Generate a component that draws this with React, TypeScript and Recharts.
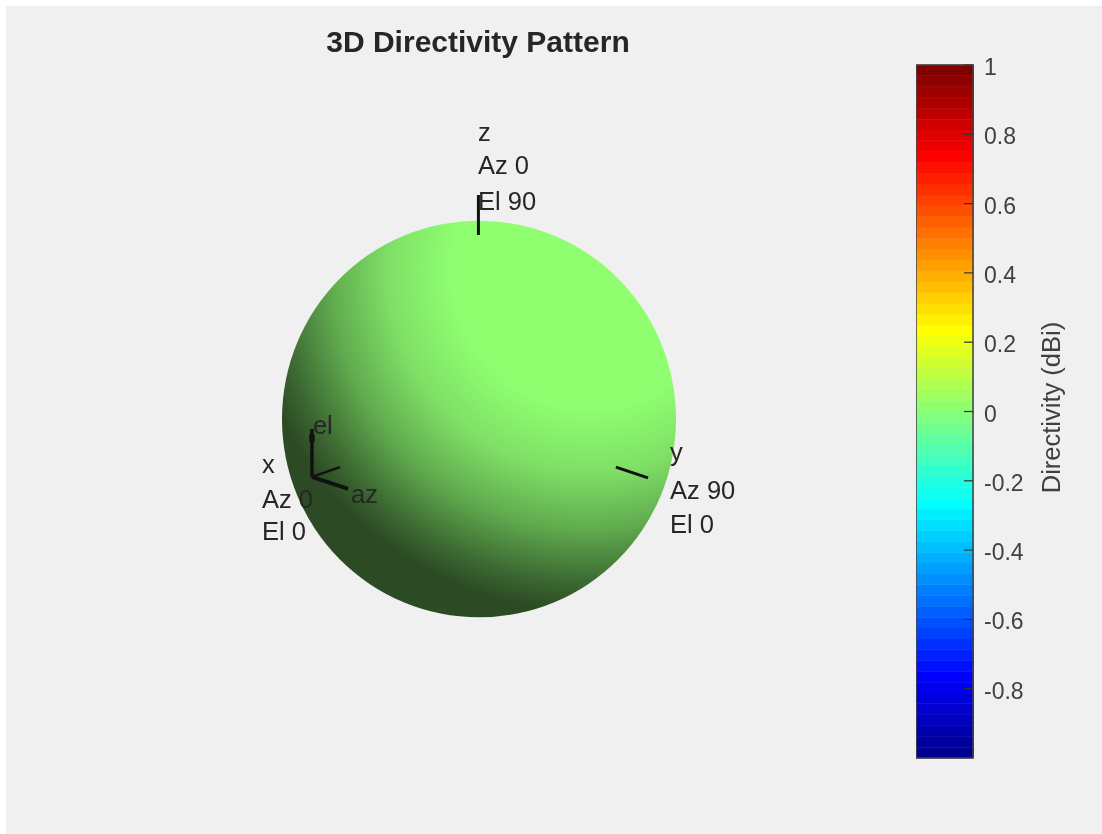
import {
  ComposedChart, Bar, Cell, Scatter, XAxis, YAxis,
} from "recharts";

// sphere units: 1 = sphere radius, origin = sphere centre
const sphereCentre = [{ x: 0, y: 0 }];
const zTick = [{ x: -0.003, y: 0.934 }, { x: -0.003, y: 1.137 }];
const yTick = [{ x: 0.695, y: -0.244 }, { x: 0.858, y: -0.299 }];
const elArrow = [{ x: -0.848, y: -0.294 }, { x: -0.848, y: -0.051 }];
const elHead = [{ x: -0.848, y: -0.115 }, { x: -0.848, y: -0.078 }];
const azArrow = [{ x: -0.848, y: -0.294 }, { x: -0.665, y: -0.355 }];
const xArrow = [{ x: -0.848, y: -0.294 }, { x: -0.706, y: -0.244 }];

const sphereLabels = [
  { x: -0.005, y: 1.421, text: "z" },
  { x: -0.005, y: 1.249, text: "Az 0" },
  { x: -0.005, y: 1.071, text: "El 90" },
  { x: 0.97, y: -0.208, text: "y" },
  { x: 0.97, y: -0.401, text: "Az 90" },
  { x: 0.97, y: -0.569, text: "El 0" },
  { x: -1.102, y: -0.269, text: "x" },
  { x: -1.102, y: -0.442, text: "Az 0" },
  { x: -1.102, y: -0.609, text: "El 0" },
  { x: -0.843, y: -0.066, text: "el" },
  { x: -0.65, y: -0.421, text: "az" },
];

const jetColors = [
  "#00008F", "#00009F", "#0000AF", "#0000BF", "#0000CF", "#0000DF", "#0000EF", "#0000FF",
  "#0010FF", "#0020FF", "#0030FF", "#0040FF", "#0050FF", "#0060FF", "#0070FF", "#0080FF",
  "#008FFF", "#009FFF", "#00AFFF", "#00BFFF", "#00CFFF", "#00DFFF", "#00EFFF", "#00FFFF",
  "#10FFEF", "#20FFDF", "#30FFCF", "#40FFBF", "#50FFAF", "#60FF9F", "#70FF8F", "#80FF80",
  "#8FFF70", "#9FFF60", "#AFFF50", "#BFFF40", "#CFFF30", "#DFFF20", "#EFFF10", "#FFFF00",
  "#FFEF00", "#FFDF00", "#FFCF00", "#FFBF00", "#FFAF00", "#FF9F00", "#FF8F00", "#FF8000",
  "#FF7000", "#FF6000", "#FF5000", "#FF4000", "#FF3000", "#FF2000", "#FF1000", "#FF0000",
  "#EF0000", "#DF0000", "#CF0000", "#BF0000", "#AF0000", "#9F0000", "#8F0000", "#800000",
];

const bandEdges = [
  -1, -0.96875, -0.9375, -0.90625, -0.875, -0.84375, -0.8125, -0.78125,
  -0.75, -0.71875, -0.6875, -0.65625, -0.625, -0.59375, -0.5625, -0.53125,
  -0.5, -0.46875, -0.4375, -0.40625, -0.375, -0.34375, -0.3125, -0.28125,
  -0.25, -0.21875, -0.1875, -0.15625, -0.125, -0.09375, -0.0625, -0.03125,
  0, 0.03125, 0.0625, 0.09375, 0.125, 0.15625, 0.1875, 0.21875,
  0.25, 0.28125, 0.3125, 0.34375, 0.375, 0.40625, 0.4375, 0.46875,
  0.5, 0.53125, 0.5625, 0.59375, 0.625, 0.65625, 0.6875, 0.71875,
  0.75, 0.78125, 0.8125, 0.84375, 0.875, 0.90625, 0.9375, 0.96875, 1,
];

const colorbarTicks = [-0.8, -0.6, -0.4, -0.2, 0, 0.2, 0.4, 0.6, 0.8, 1];
const colorbarFrame = [
  { pos: 0, level: -1 }, { pos: 1, level: -1 }, { pos: 1, level: 1 }, { pos: 0, level: 1 }, { pos: 0, level: -1 },
];
const tickMarks = [
  { pos: 1, level: -0.8 }, { pos: 1, level: -0.6 }, { pos: 1, level: -0.4 }, { pos: 1, level: -0.2 }, { pos: 1, level: 0 },
  { pos: 1, level: 0.2 }, { pos: 1, level: 0.4 }, { pos: 1, level: 0.6 }, { pos: 1, level: 0.8 }, { pos: 1, level: 1 },
];

const colorbarData = jetColors.map((_, i) => ({
  pos: 0.5,
  range: [bandEdges[i], bandEdges[i + 1]],
}));

const FONT = "'Liberation Sans', Arial, sans-serif";
const SOFT = "blur(0.45px)";

function SphereShape({ cx, cy }: any) {
  return <ellipse cx={cx} cy={cy} rx={197} ry={198.3} fill="url(#sphereShade)" />;
}

function LabelText({ cx, cy, payload }: any) {
  return (
    <text x={cx} y={cy + 1.5} fontFamily={FONT} fontSize={25.5} fill="#262626">
      {payload.text}
    </text>
  );
}

function NoDot() {
  return <g />;
}

function TickMark({ cx, cy }: any) {
  return <line x1={cx - 9} x2={cx} y1={cy} y2={cy} stroke="#333" strokeWidth={1.2} />;
}

function ColorbarTick({ x, y, payload }: any) {
  return (
    <text x={x + 3} y={y + 10} fontFamily={FONT} fontSize={23} fill="#404040">
      {payload.value}
    </text>
  );
}

function segment(data: { x: number; y: number }[], width: number) {
  return (
    <Scatter
      data={data}
      dataKey="y"
      line={{ stroke: "#111", strokeWidth: width }}
      shape={NoDot}
      isAnimationActive={false}
    />
  );
}

export default function App() {
  return (
    <div style={{ position: "absolute", left: 0, top: 0, width: 1102, height: 834, background: "#fff", overflow: "hidden" }}>
      <div style={{ position: "absolute", left: 6, top: 6, right: 0, bottom: 0, background: "#F0F0F0" }} />

      <div style={{ position: "absolute", left: 0, top: 0, filter: SOFT }}>
        <ComposedChart width={1102} height={834} margin={{ top: 0, right: 0, bottom: 0, left: 0 }} data={sphereCentre}>
          <defs>
            <radialGradient id="sphereShade" gradientUnits="userSpaceOnUse" cx={590} cy={270} r={380}>
              <stop offset="36%" stopColor="#8FFF70" />
              <stop offset="53%" stopColor="#7FE066" />
              <stop offset="68%" stopColor="#61AC4F" />
              <stop offset="83%" stopColor="#3A6530" />
              <stop offset="90%" stopColor="#2C4A24" />
            </radialGradient>
          </defs>
          <XAxis dataKey="x" type="number" domain={[-2.4315, 3.1624]} hide allowDataOverflow />
          <YAxis type="number" domain={[-2.1066, 2.1269]} hide allowDataOverflow width={0} />
          <Scatter data={sphereCentre} dataKey="y" shape={SphereShape} isAnimationActive={false} />
          {segment(zTick, 3)}
          {segment(yTick, 3)}
          {segment(elArrow, 3.5)}
          {segment(elHead, 5.5)}
          {segment(azArrow, 4)}
          {segment(xArrow, 2.5)}
          <Scatter data={sphereLabels} dataKey="y" shape={LabelText} isAnimationActive={false} />
          <text x={478} y={52} textAnchor="middle" fontFamily={FONT} fontSize={30} fontWeight="bold" fill="#262626">
            3D Directivity Pattern
          </text>
        </ComposedChart>
      </div>

      <div style={{ position: "absolute", left: 916, top: 45, filter: SOFT }}>
        <ComposedChart width={186} height={733} margin={{ top: 20, right: 0, bottom: 20, left: 0 }} data={colorbarData}>
          <XAxis xAxisId="bands" dataKey="pos" type="number" domain={[0, 1]} hide />
          <XAxis xAxisId="frame" dataKey="pos" type="number" domain={[0, 1]} hide />
          <YAxis
            dataKey="level"
            orientation="right"
            type="number"
            domain={[-1, 1]}
            ticks={colorbarTicks}
            width={129}
            axisLine={false}
            tickLine={false}
            tick={ColorbarTick}
            interval={0}
            label={{
              value: "Directivity (dBi)",
              angle: -90,
              position: "insideLeft",
              dx: 73,
              dy: -4,
              style: { fontFamily: FONT, fontSize: 25.5, fill: "#404040", textAnchor: "middle" },
            }}
          />
          <Bar xAxisId="bands" dataKey="range" barSize={57} isAnimationActive={false}>
            {colorbarData.map((_, i) => (
              <Cell key={i} fill={jetColors[i]} stroke={jetColors[i]} strokeWidth={0.6} />
            ))}
          </Bar>
          <Scatter xAxisId="frame" data={colorbarFrame} dataKey="level" line={{ stroke: "#404040", strokeWidth: 1.5 }} shape={NoDot} isAnimationActive={false} />
          <Scatter xAxisId="frame" data={tickMarks} dataKey="level" shape={TickMark} isAnimationActive={false} />
        </ComposedChart>
      </div>
    </div>
  );
}
